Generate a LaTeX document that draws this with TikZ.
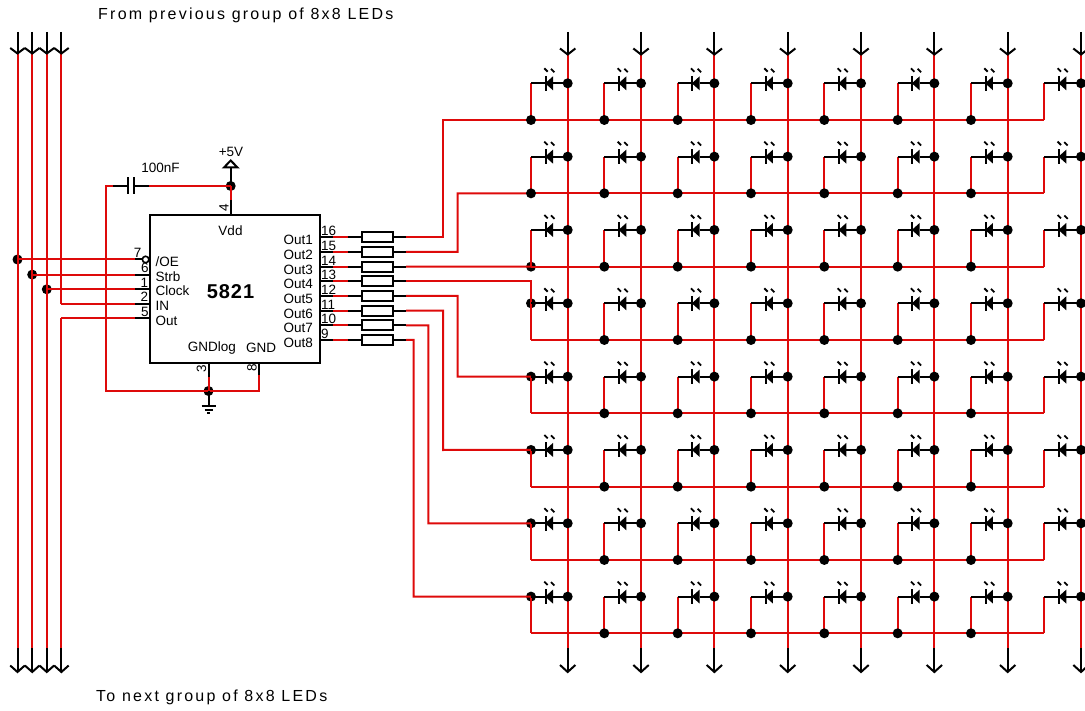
\documentclass[tikz,border=0pt]{standalone}
\usepackage{fontspec}
\setmainfont{Liberation Sans}
\newfontfamily\spaced[LetterSpace=14]{Liberation Sans}
\newfontfamily\chipfont[LetterSpace=5]{Liberation Sans}
\definecolor{wirered}{HTML}{DE0A0A}
\tikzset{
  wire/.style={draw=wirered,line width=2pt,line join=miter},
  lead/.style={draw=black,line width=2pt},
  dotn/.style={circle,fill=black,inner sep=0pt,minimum size=10pt},
  lbl/.style={inner sep=0pt,font=\fontsize{13.5}{14}\selectfont},
  title/.style={inner sep=0pt,font=\fontsize{16}{17}\spaced},
  resbox/.style={draw=black,line width=2pt,fill=white,rectangle,minimum width=31pt,minimum height=10pt,inner sep=0pt},
  chipbox/.style={draw=black,line width=2pt,rectangle,inner sep=0pt,minimum width=170.4pt,minimum height=148pt},
  ledsym/.pic={
    \fill[black] (14.2,0) -- (22,-7) -- (22,7) -- cycle;
    \draw[lead] (14.6,-7.5) -- (14.6,7.5);
    \draw[black,line width=1.8pt] (13.3,-15) -- (16.7,-11.6);
    \draw[black,line width=1.8pt] (20,-14.5) -- (23.4,-11.1);
  },
}
\begin{document}
\begin{tikzpicture}[x=1pt,y=-1pt]
\useasboundingbox (0,0) rectangle (1085,711);
\clip (0,0) rectangle (1085,711);

% ---- coordinates
\foreach \c in {0,...,7}{
  \coordinate (top\c) at (567.7+73.33*\c,32);
  \coordinate (ttip\c) at (567.7+73.33*\c,54.5);
  \coordinate (bjoin\c) at (567.7+73.33*\c,648);
  \coordinate (btip\c) at (567.7+73.33*\c,672);
  \foreach \r in {0,...,7}{
    \coordinate (rise-\c-\r) at (531+73.33*\c,83.3+73.33*\r);
    \coordinate (bus-\c-\r) at (531+73.33*\c,120+73.33*\r);
    \coordinate (vert-\c-\r) at (567.7+73.33*\c,83.3+73.33*\r);
    \coordinate (bar-\c-\r) at (545+73.33*\c,83.3+73.33*\r);
    \coordinate (tri-\c-\r) at (553+73.33*\c,83.3+73.33*\r);
  }
}
\foreach \i/\x in {1/17.5,2/32.2,3/46.8,4/61.4}{
  \coordinate (ltop\i) at (\x,32);
  \coordinate (ltip\i) at (\x,53.5);
  \coordinate (ljoin\i) at (\x,648);
  \coordinate (lbot\i) at (\x,672);
}
\foreach \i/\y in {1/259.5,2/274.6,3/289.3,4/303.7,5/318}{
  \coordinate (inA\i) at (135,\y);
  \coordinate (inB\i) at (149.6,\y);
}
\coordinate (in1tap) at (17.5,259.5);
\coordinate (in2tap) at (32.2,274.6);
\coordinate (in3tap) at (46.8,289.3);
\coordinate (in4tap) at (61.4,303.7);
\coordinate (in5tap) at (61.4,318);

% ---- junction dots that lie under their wires
\node[dotn] (jl1) at (in1tap) {};
\node[dotn] (jl2) at (in2tap) {};
\node[dotn] (jl3) at (in3tap) {};
\node[dotn] (jgnd) at (208.5,391) {};
\node[dotn] (jr2) at (bus-0-2) {};
\foreach \r in {3,...,7}{ \node[dotn] (jr\r) at (rise-0-\r) {}; }

% ---- chip
\node[chipbox] (chip) at (234.8,289) {};
\node[lbl] (vdd) at (230.5,231) {Vdd};
\node[inner sep=0pt,font=\fontsize{20}{21}\bfseries\chipfont] (ic) at (230.5,291.5) {5821};
\node[lbl] (gndlog) at (212,348) {GNDlog};
\node[lbl] (gndl) at (261,348) {GND};
\foreach \t/\y/\n in {{/OE}/262/a,Strb/277/b,Clock/291/c,IN/306/d,Out/321/e}{
  \node[lbl,anchor=west] (pinname\n) at (155.5,\y) {\t};
}
\foreach \i/\y in {1/240,2/254.7,3/269.4,4/284,5/298.7,6/313.4,7/328,8/342.7}{
  \node[lbl,anchor=east] (outname\i) at (313,\y) {Out\i};
}
\foreach \t/\y in {16/231,15/246,14/260.5,13/275,12/290,11/304.5,10/319,9/334}{
  \node[lbl,anchor=west] (outnum\t) at (321,\y) {\t};
}
\node[lbl] (n7) at (137.7,253) {7};
\node[lbl] (n6) at (145,268) {6};
\node[lbl] (n1) at (144.5,282.7) {1};
\node[lbl] (n2) at (144.5,297) {2};
\node[lbl] (n5) at (145,312) {5};
\node[lbl,rotate=90] (n4) at (224,208) {4};
\node[lbl,rotate=90] (n3) at (201.5,369) {3};
\node[lbl,rotate=90] (n8) at (252,368) {8};

% ---- outputs and resistors
\foreach \i/\y in {1/237.3,2/252,3/266.7,4/281.3,5/296,6/310.7,7/325.3,8/340}{
  \coordinate (pA\i) at (320,\y);
  \coordinate (pB\i) at (333,\y);
  \coordinate (pC\i) at (348,\y);
  \node[resbox] (R\i) at (377.7,\y) {};
  \coordinate (pD\i) at (406,\y);
  \draw[lead] (pA\i) -- (pB\i);
  \draw[wire] (pB\i) -- (pC\i);
  \draw[lead] (pC\i) -- (R\i.west);
  \draw[lead] (R\i.east) -- (pD\i);
}
\draw[wire] (pD1) -| (443,120) -- (bus-0-0);
\draw[wire] (pD2) -| (457.7,193.3) -- (bus-0-1);
\draw[wire] (pD3) -- (bus-0-2);
\draw[wire] (pD4) -| (rise-0-3);
\draw[wire] (pD5) -| (457.7,376.7) -- (rise-0-4);
\draw[wire] (pD6) -| (443,450) -- (rise-0-5);
\draw[wire] (pD7) -| (428.3,523.3) -- (rise-0-6);
\draw[wire] (pD8) -| (413.7,596.7) -- (rise-0-7);

% ---- matrix wires
\foreach \c in {0,...,7}{
  \draw[lead] (top\c) -- (ttip\c);
  \draw[wire] (ttip\c) -- (bjoin\c);
  \draw[lead] (bjoin\c) -- (btip\c);
  \draw[lead] ([xshift=-7.7pt,yshift=6pt]ttip\c) -- (ttip\c) -- ([xshift=7.7pt,yshift=6pt]ttip\c);
  \draw[lead] ([xshift=-7.7pt,yshift=7pt]btip\c) -- (btip\c) -- ([xshift=7.7pt,yshift=7pt]btip\c);
  \foreach \r in {0,...,7}{
    \draw[wire] (rise-\c-\r) -- (bus-\c-\r);
  }
}
\foreach \r in {0,...,7}{
  \draw[wire] (bus-0-\r) -- (bus-7-\r);
  \foreach \c in {0,...,7}{
    \draw[lead] (rise-\c-\r) -- (bar-\c-\r);
    \draw[lead] (tri-\c-\r) -- (vert-\c-\r);
    \pic at (rise-\c-\r) {ledsym};
    \node[dotn] (jv-\c-\r) at (vert-\c-\r) {};
  }
  \foreach \c in {1,...,6}{
    \node[dotn] (jb-\c-\r) at (bus-\c-\r) {};
  }
}
\node[dotn] (jb-0-0) at (bus-0-0) {};
\node[dotn] (jb-0-1) at (bus-0-1) {};

% ---- left bus
\foreach \i in {1,2,3}{ \draw[wire] (ltip\i) -- (ljoin\i); }
\draw[wire] (ltip4) -- (in4tap);
\draw[wire] (in5tap) -- (ljoin4);
\foreach \i in {1,...,4}{
  \draw[lead] (ltop\i) -- (ltip\i);
  \draw[lead] ([xshift=-7.3pt,yshift=5.5pt]ltip\i) -- (ltip\i) -- ([xshift=7.3pt,yshift=5.5pt]ltip\i);
  \draw[lead] (ljoin\i) -- (lbot\i);
  \draw[lead] ([xshift=-7.3pt,yshift=6.5pt]lbot\i) -- (lbot\i) -- ([xshift=7.3pt,yshift=6.5pt]lbot\i);
}
\foreach \i in {1,...,5}{ \draw[wire] (in\i tap) -- (inA\i); }
\foreach \i in {2,...,5}{ \draw[lead] (inA\i) -- (inB\i); }
\node[circle,draw=black,line width=1.6pt,fill=white,minimum size=6.5pt,inner sep=0pt] (inv) at (145.6,259.5) {};
\draw[lead] (inA1) -- (inv.west);

% ---- power
\node[dotn] (jv) at (230.7,186) {};
\coordinate (vA) at (230.7,200);
\coordinate (vB) at (230.7,215);
\coordinate (vC) at (230.7,168);
\draw[wire] (jv.center) -- (vA);
\draw[lead] (vA) -- (vB);
\draw[lead] (jv.center) -- (vC);
\draw[lead,fill=white] (224,167.5) -- (230.7,160.5) -- (237.5,167.5) -- cycle;
\node[lbl] (plus5) at (231,152) {+5V};

% ---- capacitor
\coordinate (capR) at (149,186);
\coordinate (capP2) at (134,186);
\coordinate (capP1) at (128,186);
\coordinate (capL) at (113,186);
\coordinate (capC) at (105.7,186);
\draw[wire] (jv.center) -- (capR);
\draw[lead] (capR) -- (capP2);
\draw[lead] (capP2 |- 0,177.5) -- (capP2 |- 0,194.5);
\draw[lead] (capP1 |- 0,177.5) -- (capP1 |- 0,194.5);
\draw[lead] (capP1) -- (capL);
\draw[wire] (capL) -- (capC) -- (105.7,391) -- (jgnd.center);
\node[lbl] (cap) at (160.5,167.5) {100nF};

% ---- ground
\coordinate (g3A) at (208.5,363);
\coordinate (g3B) at (208.5,377);
\coordinate (g8A) at (259.3,363);
\coordinate (g8B) at (259.3,375);
\draw[lead] (g3A) -- (g3B);
\draw[wire] (g3B) -- (jgnd.center);
\draw[lead] (g8A) -- (g8B);
\draw[wire] (g8B) |- (jgnd.center);
\coordinate (gndB) at (208.5,406);
\draw[lead] (jgnd.center) -- (gndB);
\draw[lead] (201.5,406) -- (215.5,406);
\draw[lead] (204.5,410) -- (212.5,410);
\draw[lead] (207,413.5) -- (210,413.5);

% ---- titles
\node[title,anchor=west] (from) at (98,15.5) {From previous group of 8x8 LEDs};
\node[title,anchor=west] (to) at (96,697) {To next group of 8x8 LEDs};
\end{tikzpicture}
\end{document}
